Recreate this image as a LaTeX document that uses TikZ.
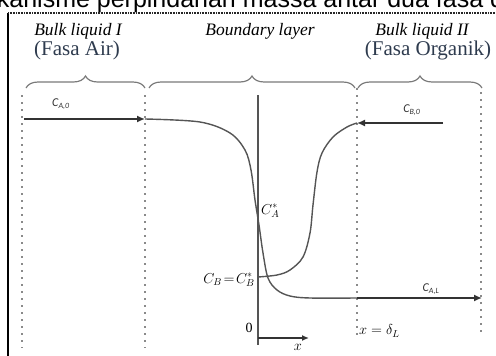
\documentclass[tikz,border=0pt]{standalone}
\usepackage{fontspec}
\setmainfont{Liberation Serif}
\newfontfamily\sansA{Liberation Sans}
\newfontfamily\calib{Carlito}
\usetikzlibrary{decorations.pathreplacing,arrows.meta}
\definecolor{phasecol}{HTML}{2E3B4E}
\definecolor{curvecol}{HTML}{555555}
\definecolor{arrcol}{HTML}{333333}
\definecolor{dotcol}{HTML}{8A8A8A}
\definecolor{bracecol}{HTML}{7A7A7A}
\tikzset{
  headlbl/.style={font=\fontsize{17.5}{17.5}\selectfont\itshape, inner sep=0pt},
  phaselbl/.style={font=\fontsize{21}{21}\selectfont, text=phasecol, inner sep=0pt},
  conclbl/.style={font=\calib\fontsize{12}{12}\selectfont\itshape, inner sep=0pt, text=arrcol},
  mathlbl/.style={font=\fontsize{14}{14}\selectfont, inner sep=0pt},
  dotline/.style={draw=dotcol, line width=1.6pt, dash pattern=on 1.6pt off 5.4pt},
  bracepath/.style={draw=bracecol, line width=1.2pt, decorate, decoration={brace, amplitude=12pt}},
  curve/.style={draw=curvecol, line width=1.4pt},
  flowarrow/.style={draw=arrcol, line width=1.5pt, -{Latex[length=8pt,width=7pt]}},
}
\begin{document}
\begin{tikzpicture}[x=1pt,y=-1pt]
\useasboundingbox (0,0) rectangle (496,356);
% clipped caption text at top
\begin{scope}
\clip (0,0) rectangle (496,12);
\node[anchor=base west, inner sep=0pt, font=\sansA\fontsize{25}{25}\selectfont] (cap) at (-38,8) {mekanisme perpindahan massa antar dua fasa dan re};
\end{scope}
% frame
\draw[black, line width=1.6pt] (8,360) -- (8,13);
\draw[black!85, line width=2pt, dash pattern=on 1pt off 0.6pt] (8,13) -- (500,13);
% headings
\node[headlbl] (h1) at (78,31) {Bulk liquid I};
\node[phaselbl] (p1) at (77,50) {(Fasa Air)};
\node[headlbl] (h2) at (260,31) {Boundary layer};
\node[headlbl] (h3) at (422,31) {Bulk liquid II};
\node[phaselbl] (p3) at (428,50) {(Fasa Organik)};
% braces
\coordinate (b1a) at (26,88); \coordinate (b1b) at (145,88);
\coordinate (b2a) at (149,88); \coordinate (b2b) at (355,88);
\coordinate (b3a) at (358,88); \coordinate (b3b) at (482,88);
\draw[bracepath] (b1a) -- (b1b);
\draw[bracepath] (b2a) -- (b2b);
\draw[bracepath] (b3a) -- (b3b);
% dotted verticals
\coordinate (d1t) at (22,95); \coordinate (d1b) at (22,348);
\coordinate (d2t) at (145,95); \coordinate (d2b) at (145,348);
\coordinate (d3t) at (357,88); \coordinate (d3b) at (357,338);
\coordinate (d4t) at (481,92); \coordinate (d4b) at (481,336);
\draw[dotline] (d1t) -- (d1b);
\draw[dotline] (d2t) -- (d2b);
\draw[dotline] (d3t) -- (d3b);
\draw[dotline] (d4t) -- (d4b);
% axis
\coordinate (axt) at (258,95); \coordinate (axb) at (258,345);
\coordinate (xo) at (258,338); \coordinate (xe) at (309,338);
\draw[curvecol, line width=1.3pt] (axt) -- (axb);
\draw[arrcol, line width=1.3pt, -{Latex[length=7pt,width=6pt]}] (xo) -- (xe);
\node[mathlbl] (zero) at (249,328) {0};
\node[mathlbl] (xl) at (298,347) {$x$};
% curve A
\coordinate (A0) at (145,119);
\coordinate (AL) at (357,298);
\draw[curve] plot[smooth, tension=0.55] coordinates {(145,119) (200,122) (230,133) (245,150) (251,170) (255,200) (259,225) (263,253) (268,278) (277,290) (290,296) (310,298) (357,298)};
% curve B
\coordinate (B0) at (357,123);
\draw[curve] plot[smooth, tension=0.55] coordinates {(258,277) (277,275) (290,270) (303,257) (310,233) (313,205) (317,172) (322,153) (333,137) (347,127) (357,123)};
% flow arrows
\coordinate (a0s) at (24,119);
\coordinate (b0s) at (443,123);
\coordinate (aLe) at (482,298);
\draw[flowarrow] (a0s) -- (A0);
\draw[flowarrow] (b0s) -- (B0);
\draw[flowarrow] (AL) -- (aLe);
% concentration labels
\node[conclbl] (cA0) at (61,104) {C\textsubscript{A,0}};
\node[conclbl] (cB0) at (412,110) {C\textsubscript{B,0}};
\node[conclbl] (cAL) at (431,289) {C\textsubscript{A,L}};
\node[mathlbl, anchor=west] (cAs) at (261,211) {$C_A^{*}$};
\node[mathlbl, anchor=east] (cBs) at (255,280) {$C_B\!=\!C_B^{*}$};
\node[mathlbl, anchor=west] (xd) at (359,331) {$x = \delta_L$};
\end{tikzpicture}
\end{document}
